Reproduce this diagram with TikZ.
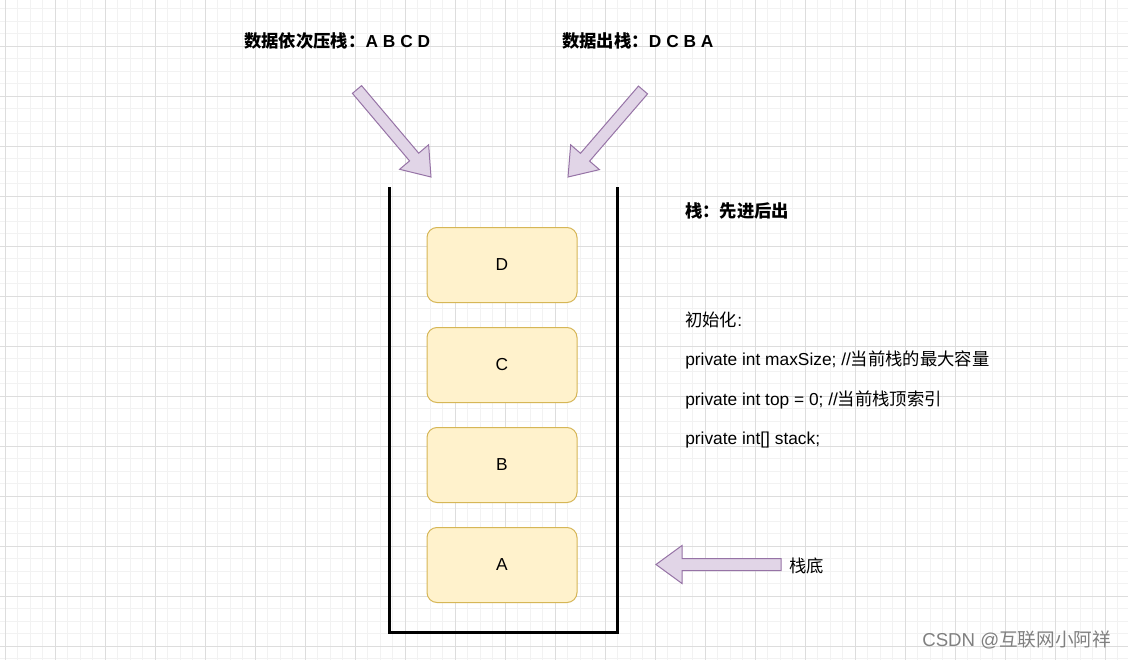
\documentclass[tikz,border=0pt]{standalone}
\usepackage{fontspec}
\setmainfont{Liberation Sans}
\newfontfamily\cjk{Noto Sans CJK SC}
\usepackage{tikz}
\usetikzlibrary{positioning,calc}
\definecolor{boxfill}{HTML}{FFF2CC}
\definecolor{boxline}{HTML}{D6B656}
\definecolor{arrfill}{HTML}{E1D5E7}
\definecolor{arrline}{HTML}{9673A6}
\definecolor{gridminor}{HTML}{F2F2F2}
\definecolor{gridmajor}{HTML}{DDDDDD}
\newcommand{\fatarrow}[2]{%
  \filldraw[fatarr] let \p1=($(#2)-(#1)$), \n1={atan2(\y1,\x1)}, \n2={veclen(\x1,\y1)} in
    ($(#1)+(\n1+90:4.5pt)$) -- ($(#1)+(\n1:\n2-19.5pt)+(\n1+90:4.5pt)$)
    -- ($(#1)+(\n1:\n2-19.5pt)+(\n1+90:14.25pt)$) -- (#2)
    -- ($(#1)+(\n1:\n2-19.5pt)+(\n1-90:14.25pt)$)
    -- ($(#1)+(\n1:\n2-19.5pt)+(\n1-90:4.5pt)$) -- ($(#1)+(\n1-90:4.5pt)$) -- cycle;}
\tikzset{
  item/.style={rectangle,draw=boxline,fill=boxfill,rounded corners=7.5pt,line width=0.75pt,
    minimum width=112.5pt,minimum height=56.25pt,font=\fontsize{13}{15}\selectfont},
  title/.style={anchor=west,inner sep=0pt,font=\fontsize{13}{15}\selectfont\bfseries},
  note/.style={anchor=west,inner sep=0pt,font=\fontsize{13}{15}\selectfont},
  fatarr/.style={draw=arrline,fill=arrfill,line width=0.75pt,line join=miter},
  wall/.style={line width=2.25pt,line join=miter},
}
\begin{document}
\begin{tikzpicture}[x=0.75pt,y=-0.75pt]
\useasboundingbox (0,0) rectangle (1128,660);
\fill[white] (0,0) rectangle (1128,660);
% grid
\begin{scope}[shift={(5,46)}]
\draw[gridminor,line width=0.5pt,step=9.375pt] (-5,-46) grid (1123,614);
\draw[gridmajor,line width=0.6pt,step=37.5pt] (-5,-46) grid (1123,614);
\end{scope}

% stack walls
\coordinate (wallTL) at (389,187);
\coordinate (wallBL) at (389,632);
\coordinate (wallBR) at (617,632);
\coordinate (wallTR) at (617,187);
\draw[wall] (wallTL) -- (wallBL) -- (wallBR) -- (wallTR);

% stack items
\node[item] (boxD) at (502,265) {D};
\node[item,below=18pt of boxD] (boxC) {C};
\node[item,below=18pt of boxC] (boxB) {B};
\node[item,below=18pt of boxB] (boxA) {A};

% push / pop / bottom arrows
\coordinate (pushTail) at (357,89.5);
\coordinate (pushTip) at (431,177);
\coordinate (popTail) at (643,90);
\coordinate (popTip) at (568,177);
\coordinate (baseTail) at (781,564.5);
\coordinate (baseTip) at (656,564.5);
\fatarrow{pushTail}{pushTip}
\fatarrow{popTail}{popTip}
\fatarrow{baseTail}{baseTip}

% texts
\node[title] (pushText) at (244,41) {{\cjk 数据依次压栈：}A B C D};
\node[title] (popText) at (562,41) {{\cjk 数据出栈：}D C B A};
\node[title] (ruleText) at (685,211) {{\cjk 栈：先进后出}};
\node[note] (initText) at (685,320) {{\cjk 初始化}:};
\node[note] (sizeText) at (685,360) {private int maxSize; //{\cjk 当前栈的最大容量}};
\node[note] (topText) at (685,400) {private int top = 0; //{\cjk 当前栈顶索引}};
\node[note] (arrText) at (685,440) {private int[] stack;};
\node[note] (baseText) at (789,566) {{\cjk 栈底}};
\node[note,text=gray,font=\fontsize{14}{16}\selectfont] (mark) at (922,640) {CSDN @{\cjk 互联网小阿祥}};
\end{tikzpicture}
\end{document}
